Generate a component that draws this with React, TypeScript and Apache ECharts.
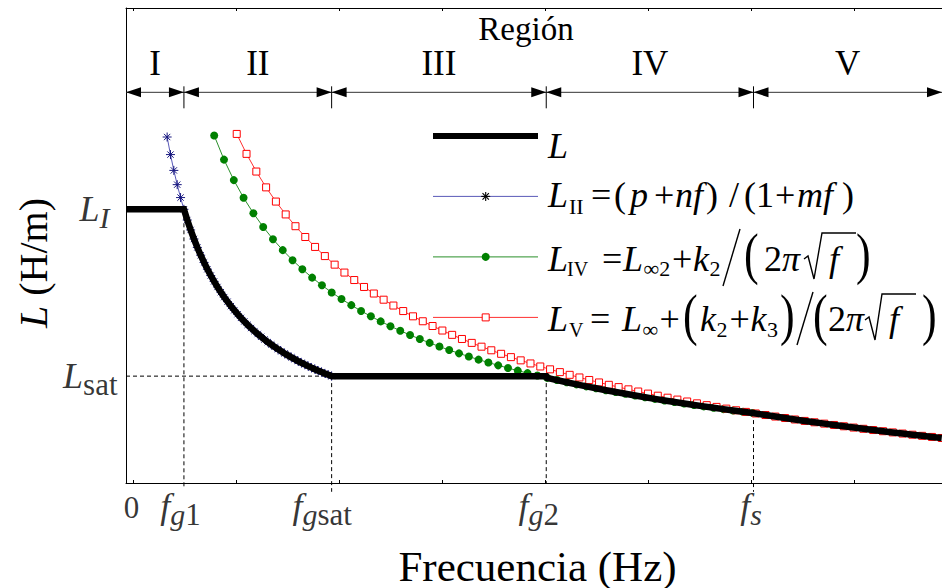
import React, { useEffect, useRef } from "react";
import * as echarts from "echarts";

// Region boundaries (frequency axis, arbitrary units) and inductance levels
const FG1 = 7.1;
const FGSAT = 25.2;
const FG2 = 51.5;
const FS = 76.9;
const L_I = 57.62;
const L_SAT = 22.5;
const L_S = 14.72;

// L_II = (p + nf)/(1 + mf), sampled on a uniform frequency grid
const BLUE_F0 = 5.04;
const BLUE_DF = 0.4114;
const BLUE_L = [
  72.84, 69.14, 65.81, 62.81, 60.09, 57.62, 55.36, 53.28, 51.37, 49.59,
  47.96, 46.43, 45.01, 43.68, 42.44, 41.27, 40.17, 39.14, 38.17, 37.24,
  36.37, 35.55, 34.76, 34.02, 33.3, 32.63, 31.98, 31.37, 30.78, 30.21,
  29.67, 29.16, 28.66, 28.18, 27.72, 27.28, 26.86, 26.45, 26.06, 25.68,
  25.31, 24.96, 24.61, 24.28, 23.96, 23.65, 23.35, 23.06, 22.78, 22.5,
];

// L_IV = L_inf2 + k2/(2*pi*sqrt(f))
const GREEN_F0 = 10.81;
const GREEN_DF = 1.2;
const GREEN_L = [
  73.15, 68.08, 63.77, 60.05, 56.79, 53.91, 51.33, 49.02, 46.91, 45.0,
  43.24, 41.62, 40.12, 38.73, 37.44, 36.22, 35.09, 34.02, 33.01, 32.06,
  31.16, 30.31, 29.5, 28.73, 27.99, 27.29, 26.62, 25.98, 25.36, 24.77,
  24.2, 23.66, 23.13, 22.63, 22.14, 21.67, 21.21, 20.77, 20.35, 19.94,
  19.54, 19.15, 18.78, 18.41, 18.06, 17.71, 17.38, 17.05, 16.74, 16.43,
  16.13, 15.84, 15.55, 15.27, 15.0, 14.74,
];

// L_V = L_inf + (k2 + k3)/(2*pi*sqrt(f))
const RED_F0 = 13.57;
const RED_DF = 1.2;
const RED_L = [
  73.49, 69.29, 65.57, 62.24, 59.25, 56.54, 54.06, 51.79, 49.7, 47.77,
  45.97, 44.3, 42.73, 41.27, 39.89, 38.59, 37.36, 36.2, 35.09, 34.05,
  33.05, 32.1, 31.19, 30.32, 29.5, 28.7, 27.94, 27.2, 26.5, 25.82,
  25.17, 24.53, 23.93, 23.34, 22.77, 22.22, 21.69, 21.17, 20.67, 20.19,
  19.72, 19.26, 18.82, 18.38, 17.96, 17.56, 17.16, 16.77, 16.39, 16.02,
  15.66, 15.31, 14.97, 14.64, 14.31, 13.99, 13.68, 13.37, 13.07, 12.78,
  12.5, 12.22, 11.94, 11.67, 11.41, 11.15, 10.9, 10.65, 10.41, 10.17,
  9.93, 9.7, 9.48,
];

// Axis decorations
const X_MINOR_TICKS = [0.86, 13.48, 26.1, 38.73, 51.35, 63.97, 76.6, 89.22];
const X_TICK_VALUES = [0, FG1, FGSAT, FG2, FS];
const X_TICK_LABELS = [
  "{n|0}",
  "{f|f}{si|g}{sr|1}",
  "{f|f}{si|g}{sr|sat}",
  "{f|f}{si|g}{sr|2}",
  "{f|f}{si|s}",
];
const Y_TICK_VALUES = [L_I, L_SAT];
const Y_TICK_LABELS = ["{f|L}{si|I}", "{f|L}{sr|sat}"];
const REGION_EDGES = [0, FG1, FGSAT, FG2, FS, 100];
const REGION_NAMES = ["I", "II", "III", "IV", "V"];
const ARROW_LEVEL = 82.25;

const SERIF = '"Liberation Serif", "Times New Roman", Times, serif';

const grid = (f0: number, df: number, ys: number[]) =>
  ys.map((y, i) => [Number((f0 + df * i).toFixed(4)), y]);

const piece = (
  text: string,
  x: number,
  base: number,
  size: number,
  italic = false
) => ({
  type: "text",
  x,
  y: base - 0.3375 * size,
  silent: true,
  style: {
    text,
    fontFamily: SERIF,
    fontSize: size,
    fontStyle: italic ? "italic" : "normal",
    fill: "#000",
    align: "left",
    verticalAlign: "middle",
  },
});

// tall delimiter: a normal glyph stretched vertically around its centre line
const tall = (text: string, x: number, centre: number) => ({
  type: "text",
  x,
  y: centre - 5,
  scaleY: 1.3,
  silent: true,
  style: {
    text,
    fontFamily: SERIF,
    fontSize: 44,
    fill: "#000",
    align: "left",
    verticalAlign: "middle",
  },
});

const seg = (x1: number, y1: number, x2: number, y2: number, w = 1.4) => ({
  type: "line",
  silent: true,
  shape: { x1, y1, x2, y2 },
  style: { stroke: "#000", lineWidth: w },
});

const radical = (pts: number[][]) => ({
  type: "polyline",
  silent: true,
  shape: { points: pts },
  style: { stroke: "#000", lineWidth: 1.4, fill: null },
});

const ASTERISK =
  "path://M5,0L5,10M0,5L10,5M1.5,1.5L8.5,8.5M1.5,8.5L8.5,1.5";

export default function App() {
  const ref = useRef<HTMLDivElement>(null);

  useEffect(() => {
    if (!ref.current) return;
    const chart = echarts.init(ref.current, undefined, { renderer: "svg" });

    const blue = grid(BLUE_F0, BLUE_DF, BLUE_L);
    const green = grid(GREEN_F0, GREEN_DF, GREEN_L);
    const red = grid(RED_F0, RED_DF, RED_L);

    const black = [
      [0, L_I],
      ...blue.filter((p) => p[0] >= FG1 - 0.01),
      [FG2, L_SAT],
      ...green.filter((p) => p[0] > FG2 && p[0] <= FS),
      ...red.filter((p) => p[0] > FS),
    ];

    const dashed = (pts: number[][]) => ({
      type: "line",
      data: pts,
      symbol: "none",
      silent: true,
      clip: false,
      lineStyle: { color: "#000", width: 1, type: [4, 3] },
      z: 1,
    });

    const tickRich = {
      n: { fontFamily: SERIF, fontSize: 31, color: "#000" },
      f: { fontFamily: SERIF, fontSize: 36, fontStyle: "italic", color: "#000" },
      si: {
        fontFamily: SERIF,
        fontSize: 30,
        fontStyle: "italic",
        color: "#000",
        padding: [18, 0, 0, 0],
      },
      sr: {
        fontFamily: SERIF,
        fontSize: 31,
        color: "#000",
        padding: [18, 0, 0, 0],
      },
    };

    const legendLine = (y: number, color: string, w = 1) => ({
      type: "line",
      silent: true,
      shape: { x1: 433, y1: y, x2: 538, y2: y },
      style: { stroke: color, lineWidth: w },
    });

    const legend = [
      legendLine(135.9, "#000", 6),
      piece("L", 548, 158, 36, true),

      legendLine(196.4, "#5a5ab8"),
      seg(485.7, 191.9, 485.7, 200.9, 1.1),
      seg(481.2, 196.4, 490.2, 196.4, 1.1),
      seg(482.5, 193.2, 488.9, 199.6, 1.1),
      seg(482.5, 199.6, 488.9, 193.2, 1.1),
      piece("L", 548, 207, 36, true),
      piece("II", 569, 214, 22),
      piece("=", 591, 207, 36),
      piece("(", 614, 207, 36),
      piece("p", 630, 207, 36, true),
      piece("+", 654, 207, 36),
      piece("nf", 675, 207, 36, true),
      piece(")", 706, 207, 36),
      piece("/", 729, 207, 36),
      piece("(1", 744, 207, 36),
      piece("+", 775, 207, 36),
      piece("mf", 797, 207, 36, true),
      piece(")", 842, 207, 36),

      legendLine(256.9, "#2a8f2a"),
      {
        type: "circle",
        silent: true,
        shape: { cx: 485.7, cy: 256.9, r: 4 },
        style: { fill: "#008000" },
      },
      piece("L", 548, 270.7, 36, true),
      piece("IV", 567, 276, 20),
      piece("=", 602, 270.7, 36),
      piece("L", 623, 270.7, 36, true),
      piece("\u221E2", 643.5, 276, 22),
      piece("+", 672, 270.7, 36),
      piece("k", 693, 270.7, 36, true),
      piece("2", 709.5, 276, 22),
      seg(723, 286, 740, 229, 1.4),
      tall("(", 744, 259),
      piece("2", 764, 270.7, 36),
      piece("\u03C0", 782, 270.7, 36, true),
      radical([
        [804, 259],
        [808, 256],
        [814, 279],
        [822, 233],
        [856, 233],
      ]),
      piece("f", 829, 270.7, 36, true),
      tall(")", 856, 259),

      legendLine(317.4, "#ff3030"),
      {
        type: "rect",
        silent: true,
        shape: { x: 482.2, y: 313.9, width: 7, height: 7 },
        style: { fill: "#fff", stroke: "#ff0000", lineWidth: 1 },
      },
      piece("L", 548, 331, 36, true),
      piece("V", 569, 337, 20),
      piece("=", 590, 331, 36),
      piece("L", 622, 331, 36, true),
      piece("\u221E", 642.5, 337, 22),
      piece("+", 659.5, 331, 36),
      tall("(", 683, 320),
      piece("k", 700, 331, 36, true),
      piece("2", 716.5, 337, 22),
      piece("+", 729.5, 331, 36),
      piece("k", 750.5, 331, 36, true),
      piece("3", 767, 337, 22),
      tall(")", 780, 320),
      seg(797, 345, 813, 292, 1.4),
      tall("(", 813, 320),
      piece("2", 828, 331, 36),
      piece("\u03C0", 846, 331, 36, true),
      radical([
        [865, 320],
        [869, 317],
        [875, 340],
        [882, 294],
        [916, 294],
      ]),
      piece("f", 889, 331, 36, true),
      tall(")", 922, 320),
    ];

    const titles = [
      {
        type: "text",
        x: 526,
        y: 28.5,
        silent: true,
        style: {
          text: "Región",
          fontFamily: SERIF,
          fontSize: 33,
          fill: "#000",
          align: "center",
          verticalAlign: "middle",
        },
      },
      {
        type: "text",
        x: 537.5,
        y: 566,
        silent: true,
        style: {
          text: "Frecuencia (Hz)",
          fontFamily: SERIF,
          fontSize: 43,
          fill: "#000",
          align: "center",
          verticalAlign: "middle",
        },
      },
      {
        type: "text",
        x: 33,
        y: 263,
        rotation: Math.PI / 2,
        silent: true,
        style: {
          text: "{it|L} (H/m)",
          fontFamily: SERIF,
          fontSize: 40,
          fill: "#000",
          align: "center",
          verticalAlign: "middle",
          rich: {
            it: { fontFamily: SERIF, fontSize: 40, fontStyle: "italic", fill: "#000" },
          },
        },
      },
    ];

    const xAxisBase = {
      type: "value",
      min: 0,
      max: 100,
      axisLine: { show: true, onZero: false, lineStyle: { color: "#000", width: 1 } },
      axisTick: {
        show: true,
        inside: true,
        length: 3,
        customValues: X_MINOR_TICKS,
        lineStyle: { color: "#000", width: 1 },
      },
      axisLabel: { show: false },
      splitLine: { show: false },
    };

    // horizontal nudges of the tick labels relative to their tick values
    const xLabelShift = [6, -3, -9, -7, -2];

    chart.setOption({
      animation: false,
      backgroundColor: "#fff",
      grid: { left: 126, right: 0, top: 8, bottom: 105, containLabel: false },
      xAxis: [
        { ...xAxisBase, position: "bottom" },
        { ...xAxisBase, position: "top" },
      ],
      yAxis: {
        type: "value",
        min: 0,
        max: 100,
        axisLine: { show: true, onZero: false, lineStyle: { color: "#000", width: 1 } },
        axisTick: { show: false },
        axisLabel: { show: false },
        splitLine: { show: false },
      },
      graphic: [...legend, ...titles],
      series: [
        dashed([
          [0, L_SAT],
          [FGSAT, L_SAT],
        ]),
        dashed([
          [FG1, L_I],
          [FG1, -0.8],
        ]),
        dashed([
          [FGSAT, L_SAT],
          [FGSAT, -1.85],
        ]),
        dashed([
          [FG2, L_SAT],
          [FG2, 0],
        ]),
        dashed([
          [FS, L_S],
          [FS, -1.85],
        ]),
        {
          name: "L_II",
          type: "line",
          data: blue,
          symbol: ASTERISK,
          symbolSize: 9,
          itemStyle: { color: "#16167e", borderColor: "#16167e", borderWidth: 1 },
          lineStyle: { color: "#5a5ab8", width: 1 },
          silent: true,
          z: 3,
        },
        {
          name: "L_IV",
          type: "line",
          data: green,
          symbol: "circle",
          symbolSize: 8,
          itemStyle: { color: "#008000", borderWidth: 0 },
          lineStyle: { color: "#2a8f2a", width: 1 },
          silent: true,
          z: 3,
        },
        {
          name: "L_V",
          type: "line",
          data: red,
          symbol: "rect",
          symbolSize: 7,
          itemStyle: { color: "#fff", borderColor: "#ff0000", borderWidth: 1 },
          lineStyle: { color: "#ff3030", width: 1 },
          silent: true,
          z: 3,
        },
        {
          name: "L",
          type: "line",
          data: black,
          symbol: "none",
          lineStyle: { color: "#000", width: 6.5, join: "miter" },
          silent: true,
          z: 4,
        },
        {
          type: "custom",
          silent: true,
          clip: false,
          z: 5,
          data: REGION_NAMES.map((_, i) => [
            REGION_EDGES[i],
            REGION_EDGES[i + 1],
            ARROW_LEVEL,
            i,
          ]),
          encode: { x: [0, 1], y: 2 },
          renderItem: (_params: any, api: any) => {
            const a = api.coord([api.value(0), api.value(2)]);
            const b = api.coord([api.value(1), api.value(2)]);
            const y = a[1];
            const idx = api.value(3);
            const head = 15;
            const half = 5;
            const children: any[] = [
              {
                type: "line",
                shape: { x1: a[0], y1: y, x2: b[0], y2: y },
                style: { stroke: "#333", lineWidth: 1 },
              },
              {
                type: "polygon",
                shape: {
                  points: [
                    [a[0], y],
                    [a[0] + head, y - half],
                    [a[0] + head, y + half],
                  ],
                },
                style: { fill: "#000" },
              },
              {
                type: "polygon",
                shape: {
                  points: [
                    [b[0], y],
                    [b[0] - head, y - half],
                    [b[0] - head, y + half],
                  ],
                },
                style: { fill: "#000" },
              },
              {
                type: "text",
                x: (a[0] + b[0]) / 2,
                y: y - 28.5,
                style: {
                  text: REGION_NAMES[idx],
                  fontFamily: SERIF,
                  fontSize: 35,
                  fill: "#000",
                  align: "center",
                  verticalAlign: "middle",
                },
              },
            ];
            if (idx > 0) {
              children.push({
                type: "line",
                shape: { x1: a[0], y1: y - 6, x2: a[0], y2: y + 16 },
                style: { stroke: "#000", lineWidth: 1 },
              });
            }
            return { type: "group", children };
          },
        },
        {
          type: "scatter",
          silent: true,
          clip: false,
          symbolSize: 1,
          itemStyle: { color: "rgba(0,0,0,0)" },
          data: X_TICK_VALUES.map((v, i) => ({
            value: [v, 0],
            label: { position: [xLabelShift[i], i === 0 ? 25 : 23] },
          })),
          label: {
            show: true,
            align: "center",
            verticalAlign: "middle",
            formatter: (p: any) => X_TICK_LABELS[p.dataIndex],
            rich: tickRich,
          },
          z: 6,
        },
        {
          type: "scatter",
          silent: true,
          clip: false,
          symbolSize: 1,
          itemStyle: { color: "rgba(0,0,0,0)" },
          data: Y_TICK_VALUES.map((v, i) => ({
            value: [0, v],
            label: { position: [i === 0 ? -16 : -8, 0] },
          })),
          label: {
            show: true,
            align: "right",
            verticalAlign: "middle",
            formatter: (p: any) => Y_TICK_LABELS[p.dataIndex],
            rich: tickRich,
          },
          z: 6,
        },
      ],
    });

    return () => chart.dispose();
  }, []);

  return (
    <div
      ref={ref}
      style={{
        position: "fixed",
        left: 0,
        top: 0,
        width: 942,
        height: 588,
        background: "#fff",
      }}
    />
  );
}
